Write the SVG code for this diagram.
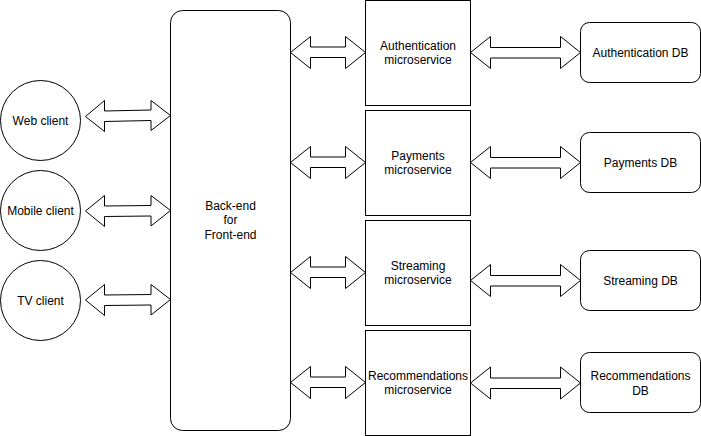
<svg xmlns="http://www.w3.org/2000/svg" width="701" height="436" viewBox="0 0 701 436">
<style>
.s{fill:#fff;stroke:#000;stroke-width:1}
.a{fill:#fff;stroke:#000;stroke-width:1;stroke-linejoin:miter}
text{font-family:"Liberation Sans",Arial,Helvetica,sans-serif;font-size:12px;fill:#000;text-anchor:middle}
</style>
<rect width="701" height="436" fill="#fff"/>
<g id="connectors">
<polygon class="a" points="85.5,116.5 104.5,100.5 104.5,111 151,110 151,100.5 170.5,115.5 151,130.5 151,120.5 104.5,121.5 104.5,131.5"/>
<polygon class="a" points="85.5,211 104.5,195.5 104.5,206 151,205.5 151,195.5 170.5,210.5 151,226 151,216 104.5,216.5 104.5,226.5"/>
<polygon class="a" points="85.5,300 104.5,284.5 104.5,295 151,294.5 151,284.5 170.5,299.5 151,315 151,305 104.5,305.5 104.5,315.5"/>
<polygon class="a" points="290.5,52.5 310.5,36.5 310.5,47 345.5,47 345.5,36.5 365.5,52.5 345.5,68.5 345.5,57.5 310.5,57.5 310.5,68.5"/>
<polygon class="a" points="290.5,162.5 310.5,146.5 310.5,157 345.5,157 345.5,146.5 365.5,162.5 345.5,178.5 345.5,167.5 310.5,167.5 310.5,178.5"/>
<polygon class="a" points="290.5,272.5 310.5,256.5 310.5,267 345.5,267 345.5,256.5 365.5,272.5 345.5,288.5 345.5,277.5 310.5,277.5 310.5,288.5"/>
<polygon class="a" points="290.5,382.5 310.5,366.5 310.5,377 345.5,377 345.5,366.5 365.5,382.5 345.5,398.5 345.5,387.5 310.5,387.5 310.5,398.5"/>
<polygon class="a" points="470.5,52.5 490.5,36.5 490.5,47.5 560.5,47.5 560.5,36.5 580.5,52.5 560.5,68.5 560.5,58 490.5,58 490.5,68.5"/>
<polygon class="a" points="470.5,162.5 490.5,146.5 490.5,157.5 560.5,157.5 560.5,146.5 580.5,162.5 560.5,178.5 560.5,168 490.5,168 490.5,178.5"/>
<polygon class="a" points="470.5,280.5 490.5,264.5 490.5,275.5 560.5,275.5 560.5,264.5 580.5,280.5 560.5,296.5 560.5,286 490.5,286 490.5,296.5"/>
<polygon class="a" points="470.5,383 490.5,367 490.5,378 560.5,378 560.5,367 580.5,383 560.5,399 560.5,388.5 490.5,388.5 490.5,399"/>
</g>
<g id="web-client"><circle class="s" cx="40.5" cy="120.5" r="40"/><text x="40.5" y="124.5">Web client</text></g>
<g id="mobile-client"><circle class="s" cx="40.5" cy="210.5" r="40"/><text x="40.5" y="214.5">Mobile client</text></g>
<g id="tv-client"><circle class="s" cx="40.5" cy="300.5" r="40"/><text x="40.5" y="304.5">TV client</text></g>
<g id="bff"><rect class="s" x="170.5" y="10.5" width="120" height="420" rx="12"/><text x="230.5" y="209.5">Back-end</text><text x="230.5" y="224">for</text><text x="230.5" y="238.5">Front-end</text></g>
<g id="auth-ms"><rect class="s" x="365.5" y="0.5" width="105" height="105"/><text x="418" y="49.5">Authentication</text><text x="418" y="64">microservice</text></g>
<g id="payments-ms"><rect class="s" x="365.5" y="110.5" width="105" height="105"/><text x="418" y="159.5">Payments</text><text x="418" y="174">microservice</text></g>
<g id="streaming-ms"><rect class="s" x="365.5" y="220.5" width="105" height="105"/><text x="418" y="269.5">Streaming</text><text x="418" y="284">microservice</text></g>
<g id="recommendations-ms"><rect class="s" x="365.5" y="330.5" width="105" height="105"/><text x="418" y="379.5">Recommendations</text><text x="418" y="394">microservice</text></g>
<g id="auth-db"><rect class="s" x="580.5" y="22.5" width="120" height="60" rx="9"/><text x="640.5" y="56.5">Authentication DB</text></g>
<g id="payments-db"><rect class="s" x="580.5" y="132.5" width="120" height="60" rx="9"/><text x="640.5" y="166.5">Payments DB</text></g>
<g id="streaming-db"><rect class="s" x="580.5" y="250.5" width="120" height="60" rx="9"/><text x="640.5" y="284.5">Streaming DB</text></g>
<g id="recommendations-db"><rect class="s" x="580.5" y="352.5" width="120" height="60" rx="9"/><text x="640.5" y="380">Recommendations</text><text x="640.5" y="394.5">DB</text></g>
</svg>
